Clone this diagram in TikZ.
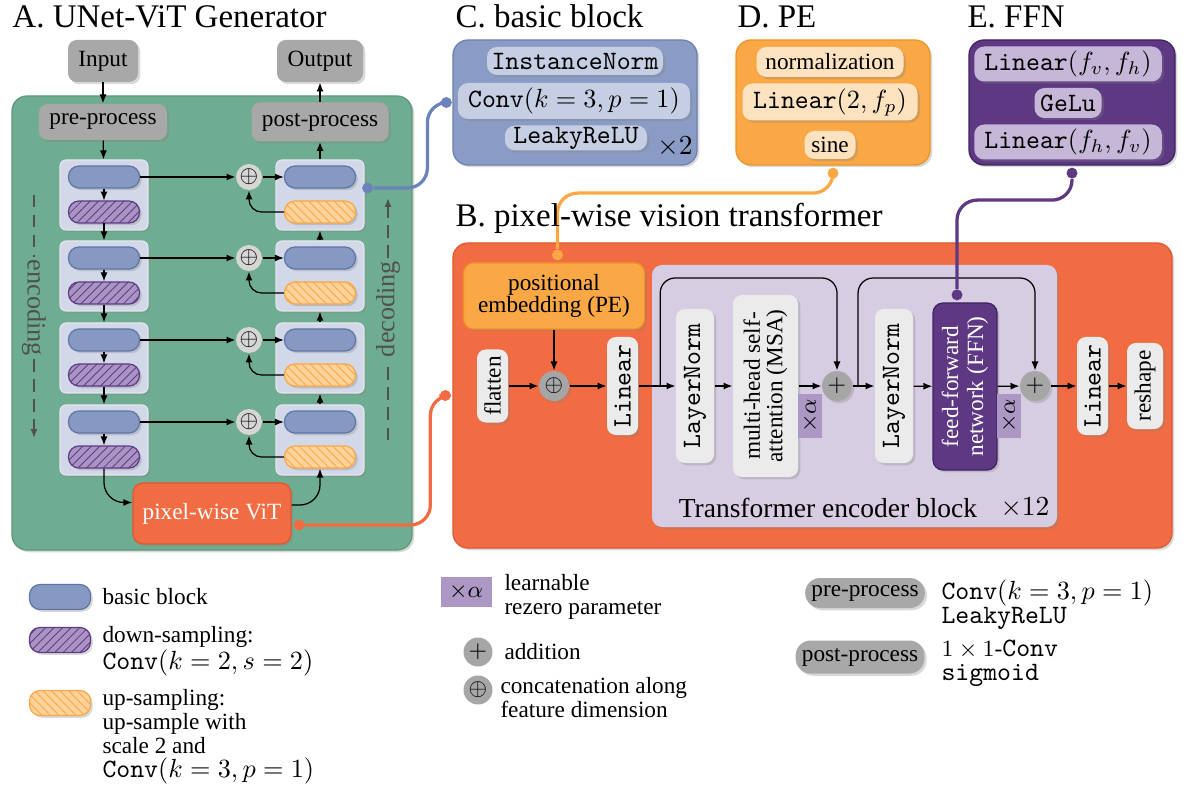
\RequirePackage{fix-cm}
\documentclass[tikz,border=0pt]{standalone}
\usepackage{fontspec}
\setmainfont{Liberation Serif}
\setmonofont{Latin Modern Mono}[Scale=1.14]
\usetikzlibrary{shadows,patterns.meta,arrows.meta,calc}
\AtBeginDocument{\fontsize{9.3}{11}\selectfont}
\definecolor{cgreen}{RGB}{111,173,146}
\definecolor{cgreenD}{RGB}{92,152,124}
\definecolor{cgray}{RGB}{168,168,168}
\definecolor{ccont}{RGB}{210,216,231}
\definecolor{ccontL}{RGB}{226,230,240}
\definecolor{cblue}{RGB}{134,153,194}
\definecolor{cblueD}{RGB}{95,116,168}
\definecolor{cblueL}{RGB}{108,130,186}
\definecolor{cpurF}{RGB}{170,148,196}
\definecolor{cpurD}{RGB}{94,60,133}
\definecolor{corF}{RGB}{253,210,155}
\definecolor{corD}{RGB}{249,168,69}
\definecolor{cred}{RGB}{242,108,67}
\definecolor{credD}{RGB}{222,88,48}
\definecolor{ctrans}{RGB}{214,205,226}
\definecolor{clight}{RGB}{235,235,235}
\definecolor{calpha}{RGB}{172,151,197}
\definecolor{cffn}{RGB}{94,56,131}
\definecolor{cffnD}{RGB}{62,36,96}
\definecolor{cpe}{RGB}{249,168,69}
\definecolor{cpeD}{RGB}{236,148,40}
\definecolor{cCpan}{RGB}{138,156,198}
\definecolor{cCpanD}{RGB}{110,128,176}
\definecolor{cCin}{RGB}{197,206,227}
\definecolor{cDin}{RGB}{253,226,192}
\definecolor{cEin}{RGB}{198,183,216}
\definecolor{ccirc}{RGB}{214,214,214}
\definecolor{ccircB}{RGB}{166,166,166}
\definecolor{ctxt}{RGB}{80,80,80}
\newcommand{\mm}[1]{{\fontsize{10.5}{11}\selectfont$#1$}}
\tikzset{
 shad/.style={drop shadow={opacity=0.3,shadow xshift=0.9pt,shadow yshift=-0.9pt}},
 arr/.style={-{Latex[length=3.6pt,width=2.8pt]},line width=0.5pt},
 ttl/.style={anchor=base west,inner sep=0pt,font=\fontsize{13.2}{15}\selectfont},
 panelbox/.style={shad,rounded corners=6pt,inner sep=0pt,line width=0.5pt},
 graybox/.style={shad,fill=cgray,rounded corners=3.5pt,inner sep=0pt},
 cont/.style={shad,fill=ccont,draw=ccontL,line width=0.5pt,rounded corners=2.5pt,minimum width=35.2pt,minimum height=28pt,inner sep=0pt},
 pill/.style={rounded corners=4.2pt,minimum width=28.4pt,minimum height=8.8pt,inner sep=0pt,line width=0.5pt},
 bluepill/.style={pill,shad,fill=cblue,draw=cblueD},
 purpill/.style={pill,shad,preaction={fill=cpurF},pattern={Lines[angle=45,distance=2.4pt,line width=0.35pt]},pattern color=cpurD,draw=cpurD},
 orpill/.style={pill,shad,preaction={fill=corF},pattern={Lines[angle=-45,distance=2.4pt,line width=0.35pt]},pattern color=corD,draw=corD},
 catc/.style={circle,fill=ccirc,minimum size=10.4pt,inner sep=0pt},
 dotc/.style={circle,inner sep=0pt,minimum size=4.4pt},
 lnk/.style={line width=1.3pt,rounded corners=8pt},
 vbox/.style={shad,fill=clight,rounded corners=3.5pt,inner sep=0pt,rotate=90},
 circB/.style={circle,shad,fill=ccircB,minimum size=12pt,inner sep=0pt},
 alphab/.style={fill=calpha,inner sep=0pt,rotate=90,minimum width=17.6pt,minimum height=9.6pt},
 inbox/.style={shad,rounded corners=4pt,inner sep=0pt},
 dashl/.style={ctxt,line width=0.6pt,dash pattern=on 5pt off 3pt},
 leg/.style={anchor=north west,align=left,inner sep=0pt,font=\fontsize{9.3}{9.6}\selectfont},
 legpill/.style={shad,fill=cgray,rounded corners=6pt,minimum height=12pt,inner xsep=2.5pt,inner ysep=0pt},
 sidetxt/.style={text=ctxt,inner sep=1pt,font=\fontsize{10.5}{12}\selectfont},
}
\begin{document}
\begin{tikzpicture}[x=0.4pt,y=-0.4pt]
\useasboundingbox (0,0) rectangle (1193,792);
% ---------- A ----------
\node[ttl] (tA) at (12,28) {A. UNet-ViT Generator};
\node[panelbox,fill=cgreen,draw=cgreenD,minimum width=160pt,minimum height=181.6pt] (gpan) at (212,323) {};
\node[graybox,minimum width=28pt,minimum height=16.8pt] (inp) at (103,61) {Input};
\node[graybox,minimum width=34.4pt,minimum height=16.8pt] (outp) at (320,61) {Output};
\node[graybox,minimum width=51.2pt,minimum height=14.4pt] (pre) at (103,122) {pre-process};
\node[graybox,minimum width=54.8pt,minimum height=15.6pt] (post) at (320,122) {post-process};
\foreach \i/\y in {1/195,2/276,3/358,4/440}{
  \node[cont] (eb\i) at (104,\y) {};
  \node[cont] (db\i) at (320,\y) {};
  \node[bluepill] (ebl\i) at (104,\y-18) {};
  \node[purpill] (ed\i) at (104,\y+17) {};
  \node[bluepill] (dbl\i) at (320,\y-18) {};
  \node[orpill] (du\i) at (320,\y+17) {};
  \node[catc] (c\i) at (249,\y-18) {$\oplus$};
}
\node[shad,fill=cred,draw=credD,line width=0.5pt,rounded corners=4pt,minimum width=63.2pt,minimum height=24.4pt,text=white] (pix) at (212,513.5) {pixel-wise ViT};
\draw[arr] (inp) -- (pre);
\draw[arr] (pre) -- (eb1);
\foreach \i in {1,...,4}{
  \draw[arr] (ebl\i) -- (ed\i);
  \draw[arr] (ebl\i) -- (c\i);
  \draw[arr] (c\i) -- (dbl\i);
  \draw[arr,rounded corners=5pt] (du\i.west) -| (c\i.south);
}
\draw[arr] (ed1) -- (eb2);
\draw[arr] (ed2) -- (eb3);
\draw[arr] (ed3) -- (eb4);
\draw[arr] (db4) -- (db3);
\draw[arr] (db3) -- (db2);
\draw[arr] (db2) -- (db1);
\draw[arr] (db1) -- (post);
\draw[arr] (post) -- (outp);
\draw[arr,rounded corners=8pt] (ed4.south) |- ([yshift=4.4pt]pix.west);
\draw[arr,rounded corners=8pt] ([yshift=3.4pt]pix.east) -| (du4.south);
\node[sidetxt,rotate=-90] (enc) at (34,308) {encoding};
\coordinate (encA) at (34,195);
\coordinate (encB) at (34,438);
\draw[dashl] (encA) -- (enc.west);
\draw[dashl,-{Latex[length=3.6pt,width=2.8pt]}] (enc.east) -- (encB);
\node[sidetxt,rotate=90] (dec) at (388,309) {decoding};
\coordinate (decA) at (388,440);
\coordinate (decB) at (388,198);
\draw[dashl] (decA) -- (dec.west);
\draw[dashl,-{Latex[length=3.6pt,width=2.8pt]}] (dec.east) -- (decB);
% ---------- C ----------
\node[ttl] (tC) at (455,28) {C. basic block};
\node[panelbox,fill=cCpan,draw=cCpanD,minimum width=97.6pt,minimum height=50pt] (cpan) at (575,102.5) {};
\node[inbox,fill=cCin,minimum width=70.4pt,minimum height=11.2pt,font=\ttfamily] (cin1) at (575,61) {InstanceNorm};
\node[inbox,fill=cCin,minimum width=92.8pt,minimum height=14.4pt] (cin2) at (574,101) {\texttt{Conv}\mm{(k=3,p=1)}};
\node[inbox,fill=cCin,minimum width=56.8pt,minimum height=10pt,font=\ttfamily] (cin3) at (576,138) {LeakyReLU};
\node[font=\fontsize{11}{13}\selectfont] (x2) at (675,147) {$\times2$};
% ---------- D ----------
\node[ttl] (tD) at (737,28) {D. PE};
\node[panelbox,fill=cpe,draw=cpeD,minimum width=77.6pt,minimum height=50pt] (dpan) at (833,102.5) {};
\node[inbox,fill=cDin,minimum width=58.8pt,minimum height=12pt] (din1) at (830,62) {normalization};
\node[inbox,fill=cDin,minimum width=70pt,minimum height=14.8pt] (din2) at (830,102) {\texttt{Linear}\mm{(2,f_p)}};
\node[inbox,fill=cDin,minimum width=20.4pt,minimum height=11.2pt] (din3) at (830,145) {sine};
% ---------- E ----------
\node[ttl] (tE) at (967,28) {E. FFN};
\node[panelbox,fill=cffn,draw=cffnD,minimum width=82.4pt,minimum height=50pt] (epan) at (1072,102.5) {};
\node[inbox,fill=cEin,minimum width=75pt,minimum height=14pt] (ein1) at (1068,64) {\texttt{Linear}\mm{(f_v,f_h)}};
\node[inbox,fill=cEin,minimum width=26.8pt,minimum height=12pt,font=\ttfamily] (ein2) at (1068,103) {GeLu};
\node[inbox,fill=cEin,minimum width=75pt,minimum height=14pt] (ein3) at (1068,142) {\texttt{Linear}\mm{(f_h,f_v)}};
% ---------- B ----------
\node[panelbox,fill=cred,draw=credD,minimum width=287.6pt,minimum height=122pt] (bpan) at (812.5,395.5) {};
\node[shad,fill=ctrans,rounded corners=4pt,minimum width=162pt,minimum height=104.8pt] (trans) at (854.5,396) {};
\node[shad,fill=cpe,draw=cpeD,line width=0.5pt,rounded corners=4pt,minimum width=72.4pt,minimum height=26.4pt,align=center,font=\fontsize{9.3}{9}\selectfont] (pe) at (554,296) {positional\\embedding (PE)};
\node[vbox,minimum width=29.2pt,minimum height=12.4pt] (flat) at (492.5,386) {flatten};
\node[circB] (catB) at (554,386) {$\oplus$};
\node[vbox,minimum width=39.2pt,minimum height=12.4pt,font=\ttfamily] (lin1) at (622.5,386) {Linear};
\node[vbox,minimum width=61.6pt,minimum height=15.2pt,font=\ttfamily] (ln1) at (695,386) {LayerNorm};
\node[vbox,minimum width=72.8pt,minimum height=26pt,align=center,font=\fontsize{9.3}{9}\selectfont] (msa) at (765.5,386) {multi-head self-\\attention (MSA)};
\node[alphab] (al1) at (810,416) {$\times\alpha$};
\node[circB] (p1) at (837,386) {$+$};
\node[vbox,minimum width=61.6pt,minimum height=15.2pt,font=\ttfamily] (ln2) at (894,386) {LayerNorm};
\node[shad,fill=cffn,draw=cffnD,line width=0.5pt,rounded corners=4pt,rotate=90,inner sep=0pt,minimum width=66.8pt,minimum height=25.6pt,align=center,text=white,font=\fontsize{9.3}{10}\selectfont] (ffn) at (965,386.5) {feed-forward\\network (FFN)};
\node[alphab] (al2) at (1009,416) {$\times\alpha$};
\node[circB] (p2) at (1035,386) {$+$};
\node[vbox,minimum width=39.2pt,minimum height=12.4pt,font=\ttfamily] (lin2) at (1092.5,386) {Linear};
\node[vbox,minimum width=34.4pt,minimum height=14.4pt] (resh) at (1145,386) {reshape};
\node[font=\fontsize{11}{13}\selectfont] (tlab) at (828,508) {Transformer encoder block};
\node[font=\fontsize{11}{13}\selectfont] (t12) at (1025,508) {$\times12$};
\draw[arr] (flat) -- (catB);
\draw[arr] (pe) -- (catB);
\draw[arr] (catB) -- (lin1);
\draw[arr] (lin1) -- (ln1);
\draw[arr] (ln1) -- (msa);
\draw[arr] (msa) -- (p1);
\draw[arr] (p1) -- (ln2);
\draw[arr] (ln2) -- (ffn);
\draw[arr] (ffn) -- (p2);
\draw[arr] (p2) -- (lin2);
\draw[arr] (lin2) -- (resh);
\draw[arr,rounded corners=6pt] ($(lin1)!0.52!(ln1)$) -- ++(0,-108) -| (p1.north);
\draw[arr,rounded corners=6pt] ($(p1)!0.37!(ln2)$) -- ++(0,-108) -| (p2.north);
% ---------- links ----------
\node[dotc,fill=cblueL] (bdot) at ([shift={(1.2pt,2.8pt)}]db1.east) {};
\node[dotc,fill=cblueL] (cdot) at ([xshift=-2.4pt]cpan.west) {};
\draw[lnk,cblueL] (bdot) -| ([xshift=-7.6pt]cdot.center) -- (cdot);
\node[dotc,fill=cred] (vdot) at ([shift={(3pt,-4.6pt)}]pix.east) {};
\node[dotc,fill=cred] (bpdot) at ([xshift=-2.8pt]bpan.west) {};
\draw[lnk,cred] (vdot) -| ([xshift=-6pt]bpdot.center) -- (bpdot);
\node[dotc,fill=corD] (ddot) at ([yshift=-3pt]dpan.south) {};
\node[dotc,fill=corD] (pedot) at ([shift={(1.4pt,3pt)}]pe.north) {};
\draw[lnk,corD] (ddot) -- ++(0,20) -| (pedot);
\node[dotc,fill=cffn] (edot) at ([yshift=-3pt]epan.south) {};
\node[dotc,fill=cffn] (fdot) at ([shift={(-3.2pt,3pt)}]ffn.east) {};
\draw[lnk,cffn] (edot) -- ++(0,27) -| (fdot);
\node[ttl] (tB) at (455,227) {B. pixel-wise vision transformer};
% ---------- legend ----------
\node[bluepill,minimum width=24.4pt,minimum height=10pt] (lg1) at (60,597) {};
\node[purpill,minimum width=24.4pt,minimum height=10pt] (lg2) at (60,640) {};
\node[orpill,minimum width=24.4pt,minimum height=10pt] (lg3) at (60,703) {};
\node[anchor=west,inner sep=0pt] (lt1) at (102,597) {basic block};
\node[leg] (lt2) at (102,626) {down-sampling:\\\texttt{Conv}\mm{(k=2,s=2)}};
\node[leg] (lt3) at (102,689) {up-sampling:\\up-sample with\\scale 2 and\\\texttt{Conv}\mm{(k=3,p=1)}};
\node[fill=calpha,inner sep=0pt,minimum width=20.4pt,minimum height=12pt] (la) at (466,592) {$\times\alpha$};
\node[leg] (lat) at (504,574) {learnable\\rezero parameter};
\node[circle,fill=ccircB,minimum size=11.6pt,inner sep=0pt] (lp) at (478,652) {$+$};
\node[anchor=west,inner sep=0pt] (lpt) at (504,652) {addition};
\node[circle,fill=ccircB,minimum size=11.6pt,inner sep=0pt] (lc) at (478,690) {$\oplus$};
\node[leg] (lct) at (500,677) {concatenation along\\feature dimension};
\node[legpill] (lpre) at (865,593) {pre-process};
\node[leg] (lpret) at (941,579) {\texttt{Conv}\mm{(k=3,p=1)}\\\texttt{LeakyReLU}};
\node[legpill,minimum height=13.2pt] (lpost) at (860,657) {post-process};
\node[leg] (lpostt) at (941,640) {$1\times1$-\texttt{Conv}\\\texttt{sigmoid}};
\end{tikzpicture}
\end{document}
